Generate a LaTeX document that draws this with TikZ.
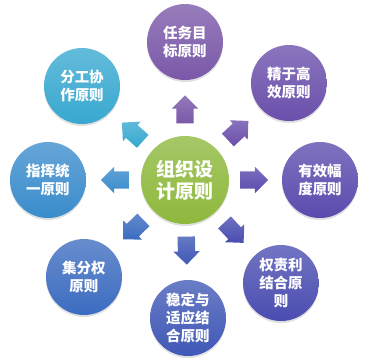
\documentclass[tikz,border=0pt]{standalone}
\usepackage{fontspec}
\newfontfamily\cjk{Noto Sans CJK SC}
\usetikzlibrary{calc,shapes.arrows,shadows}
\definecolor{coreGreen}{HTML}{8DB83C}
\definecolor{pTask}{HTML}{7A58A8}
\definecolor{pLean}{HTML}{6A4FAB}
\definecolor{pSpan}{HTML}{5A4BAD}
\definecolor{pDuty}{HTML}{4A4DB0}
\definecolor{pAdapt}{HTML}{4058B6}
\definecolor{pCentral}{HTML}{3C6CC0}
\definecolor{pCommand}{HTML}{3A8CCC}
\definecolor{pLabour}{HTML}{38A8D0}

\begin{document}
\begin{tikzpicture}[x=1pt,y=1pt,
  principle/.style={circle,minimum size=76pt,inner sep=0pt,align=center,text=white,
    font=\cjk\bfseries\fontsize{14.5}{18}\selectfont,
    drop shadow={opacity=.25,shadow xshift=0pt,shadow yshift=-2pt},
    top color=#1!78!white,bottom color=#1},
  pointer/.style={single arrow,minimum height=28pt,minimum width=26pt,
    single arrow head extend=4.5pt,inner xsep=0pt,inner ysep=8.5pt,
    top color=#1!80!white,bottom color=#1}]
\useasboundingbox (0,0) rectangle (368,-360);
% centre
\node[principle=coreGreen,minimum size=88pt,font=\cjk\bfseries\fontsize{19}{22}\selectfont] (core) at (185,-180) {组织设\\计原则};
% principles round the centre
\node[principle=pTask] (task) at (185,-42) {任务目\\标原则};
\node[principle=pLean] (lean) at (289,-83) {精于高\\效原则};
\node[principle=pSpan] (span) at (320,-180) {有效幅\\度原则};
\node[principle=pDuty] (duty) at (281,-283) {权责利\\结合原\\则};
\node[principle=pAdapt] (adapt) at (188,-318) {稳定与\\适应结\\合原则};
\node[principle=pCentral] (central) at (84,-277) {集分权\\原则};
\node[principle=pCommand] (command) at (48,-180) {指挥统\\一原则};
\node[principle=pLabour] (labour) at (82,-86) {分工协\\作原则};
% block arrows
\node[pointer=pTask,rotate=90] (toTask) at ($(core)!.48!(task)$) {};
\node[pointer=pLean,rotate=43] (toLean) at ($(core)!.48!(lean)$) {};
\node[pointer=pSpan,rotate=0] (toSpan) at ($(core)!.48!(span)$) {};
\node[pointer=pDuty,rotate=-47] (toDuty) at ($(core)!.48!(duty)$) {};
\node[pointer=pAdapt,rotate=-89] (toAdapt) at ($(core)!.48!(adapt)$) {};
\node[pointer=pCentral,rotate=-136] (toCentral) at ($(core)!.48!(central)$) {};
\node[pointer=pCommand,rotate=180] (toCommand) at ($(core)!.48!(command)$) {};
\node[pointer=pLabour,rotate=138] (toLabour) at ($(core)!.48!(labour)$) {};
\end{tikzpicture}
\end{document}
